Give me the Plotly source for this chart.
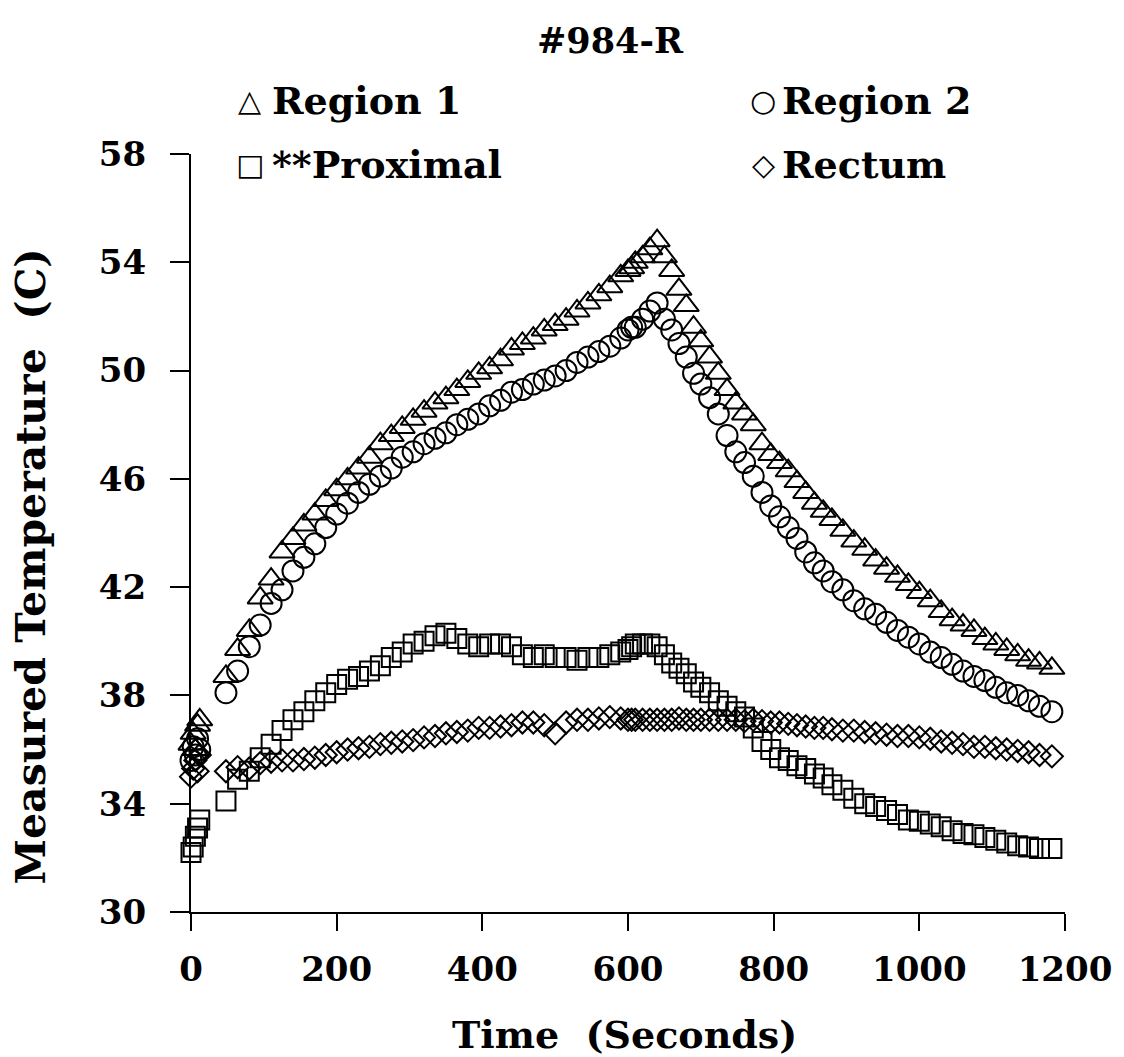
import plotly.graph_objects as go

# Time (s), shared by all four probes
time_s = [0, 3, 6, 9, 12, 48, 64, 80, 95, 110, 125, 140, 155, 170, 185, 200, 215, 230, 245, 260,
          275, 290, 305, 320, 335, 350, 365, 380, 395, 410, 425, 440, 455, 470, 485, 500, 515, 530,
          545, 560, 575, 590, 600, 605, 610, 620, 630, 640, 650, 660, 670, 680, 690, 700, 712, 724,
          736, 748, 760, 772, 784, 796, 808, 820, 832, 844, 856, 868, 880, 895, 910, 925, 940, 955,
          970, 985, 1000, 1015, 1030, 1045, 1060, 1075, 1090, 1105, 1120, 1135, 1150, 1165, 1182]

region1 = [36.2, 36.6, 36.0, 36.9, 37.1, 38.7, 39.7, 40.4, 41.6, 42.3, 43.3, 43.8, 44.3, 44.7, 45.2,
           45.6, 46.0, 46.4, 46.8, 47.3, 47.6, 47.9, 48.2, 48.5, 48.8, 49.0, 49.3, 49.6, 49.9, 50.1,
           50.4, 50.8, 51.0, 51.2, 51.5, 51.7, 51.9, 52.2, 52.5, 52.8, 53.1, 53.5, 53.7, 53.8, 54.0,
           54.2, 54.5, 54.8, 54.2, 53.7, 53.0, 52.4, 51.6, 51.1, 50.5, 49.9, 49.3, 48.8, 48.4, 48.0,
           47.3, 46.9, 46.6, 46.3, 45.9, 45.5, 45.1, 44.8, 44.5, 44.1, 43.7, 43.4, 43.0, 42.7, 42.4,
           42.1, 41.8, 41.5, 41.1, 40.8, 40.6, 40.4, 40.1, 39.9, 39.7, 39.5, 39.3, 39.2, 39.0]

region2 = [35.6, 36.1, 35.8, 36.4, 36.0, 38.1, 38.9, 39.8, 40.6, 41.4, 41.9, 42.6, 43.1, 43.6, 44.2,
           44.7, 45.1, 45.5, 45.8, 46.1, 46.4, 46.8, 47.0, 47.3, 47.5, 47.7, 48.0, 48.2, 48.4, 48.7,
           48.9, 49.2, 49.3, 49.5, 49.65, 49.8, 50.0, 50.3, 50.5, 50.7, 50.9, 51.2, 51.5, 51.6, 51.6,
           51.9, 52.2, 52.5, 51.9, 51.5, 51.0, 50.5, 49.9, 49.5, 49.0, 48.4, 47.6, 47.0, 46.6, 46.1,
           45.5, 45.0, 44.6, 44.2, 43.8, 43.3, 42.9, 42.6, 42.2, 41.9, 41.5, 41.2, 41.0, 40.7, 40.4,
           40.15, 39.9, 39.6, 39.4, 39.15, 38.9, 38.7, 38.55, 38.3, 38.1, 38.0, 37.8, 37.6, 37.4]

proximal = [32.2, 32.4, 32.8, 33.1, 33.4, 34.1, 34.9, 35.2, 35.7, 36.2, 36.7, 37.1, 37.4, 37.8, 38.1,
            38.4, 38.6, 38.7, 38.9, 39.1, 39.4, 39.6, 39.9, 40.0, 40.2, 40.3, 40.1, 39.9, 39.8, 39.9,
            39.9, 39.8, 39.5, 39.4, 39.5, 39.4, 39.4, 39.3, 39.4, 39.4, 39.5, 39.6, 39.7, 39.8, 39.9,
            39.9, 39.9, 39.8, 39.5, 39.2, 39.0, 38.8, 38.5, 38.3, 38.1, 37.8, 37.6, 37.4, 37.2, 36.8,
            36.3, 36.0, 35.7, 35.6, 35.4, 35.3, 35.1, 34.95, 34.7, 34.5, 34.2, 34.0, 33.9, 33.75, 33.6,
            33.4, 33.35, 33.25, 33.15, 33.0, 32.9, 32.85, 32.75, 32.65, 32.55, 32.45, 32.4, 32.35, 32.35]

rectum = [35.0, 35.3, 35.6, 35.2, 35.8, 35.2, 35.35, 35.3, 35.5, 35.55, 35.6, 35.6, 35.65, 35.7, 35.8,
          35.9, 36.0, 36.05, 36.1, 36.2, 36.25, 36.3, 36.35, 36.45, 36.5, 36.6, 36.65, 36.7, 36.8, 36.8,
          36.85, 36.9, 37.0, 37.0, 36.9, 36.6, 37.0, 37.1, 37.1, 37.15, 37.2, 37.15, 37.1, 37.1, 37.1,
          37.1, 37.1, 37.1, 37.1, 37.1, 37.15, 37.1, 37.1, 37.1, 37.1, 37.1, 37.1, 37.1, 37.05, 37.1,
          37.05, 37.0, 37.0, 36.95, 36.9, 36.85, 36.8, 36.8, 36.75, 36.7, 36.7, 36.65, 36.6, 36.55, 36.5,
          36.5, 36.45, 36.4, 36.3, 36.25, 36.2, 36.1, 36.1, 36.05, 36.0, 35.95, 35.9, 35.8, 35.75]

y_ticks = [30, 34, 38, 42, 46, 50, 54, 58]
x_ticks = [0, 200, 400, 600, 800, 1000, 1200]

series = [
    ("Region 1", region1, "triangle-up-open", 22),
    ("Region 2", region2, "circle-open", 21),
    ("**Proximal", proximal, "square-open", 19),
    ("Rectum", rectum, "diamond-open", 17),
]

SERIF = "DejaVu Serif"

fig = go.Figure()
for name, vals, sym, size in series:
    fig.add_trace(go.Scatter(
        x=time_s, y=vals, mode="markers", name=name, cliponaxis=False,
        marker=dict(symbol=sym, size=size, color="black",
                    line=dict(color="black", width=2)),
    ))

fig.update_layout(
    width=1124, height=1057,
    margin=dict(l=191, r=54, t=154, b=145),
    paper_bgcolor="white", plot_bgcolor="white",
    showlegend=False,
    font=dict(family=SERIF, color="black"),
)

fig.update_xaxes(
    range=[0, 1200], tickvals=x_ticks, ticks="outside", ticklen=17, tickwidth=2,
    tickcolor="black", showline=True, linecolor="black", linewidth=2,
    showgrid=False, zeroline=False,
    tickfont=dict(family=SERIF, size=34, weight=700, color="black"),
    ticklabelstandoff=9,
)
fig.update_yaxes(
    range=[30, 58], tickvals=y_ticks, ticks="outside", ticklen=19, tickwidth=2,
    tickcolor="black", showline=True, linecolor="black", linewidth=2,
    showgrid=False, zeroline=False,
    tickfont=dict(family=SERIF, size=34, weight=700, color="black"),
    ticklabelstandoff=17,
)

def ann(text, x, y, size, family=SERIF, weight=700, xanchor="center", angle=0):
    fig.add_annotation(text=text, x=x, y=y, xref="paper", yref="paper",
                       xanchor=xanchor, yanchor="middle", showarrow=False, textangle=angle,
                       font=dict(family=family, size=size, weight=weight, color="black"))

# title and axis titles
ann("#984-R", 0.480, 1.150, 35)
ann("Time  (Seconds)", 0.496, -0.162, 38)
ann("Measured Temperature  (C)", -0.183, 0.456, 41, angle=-90)

# legend (two columns inside the top of the chart)
legend_items = [
    ("\u25B3", "Region 1", 0.0671, 0.0900, 1.071),
    ("\u25CB", "Region 2", 0.655, 0.6740, 1.071),
    ("\u25A1", "**Proximal", 0.0671, 0.0900, 0.9855),
    ("\u25C7", "Rectum", 0.655, 0.6740, 0.9855),
]
for sym, label, xs, xt, yy in legend_items:
    ann(sym, xs, yy, 30, family="DejaVu Sans", weight=400)
    ann(label, xt, yy, 38, xanchor="left")

fig.write_html("out.html")
